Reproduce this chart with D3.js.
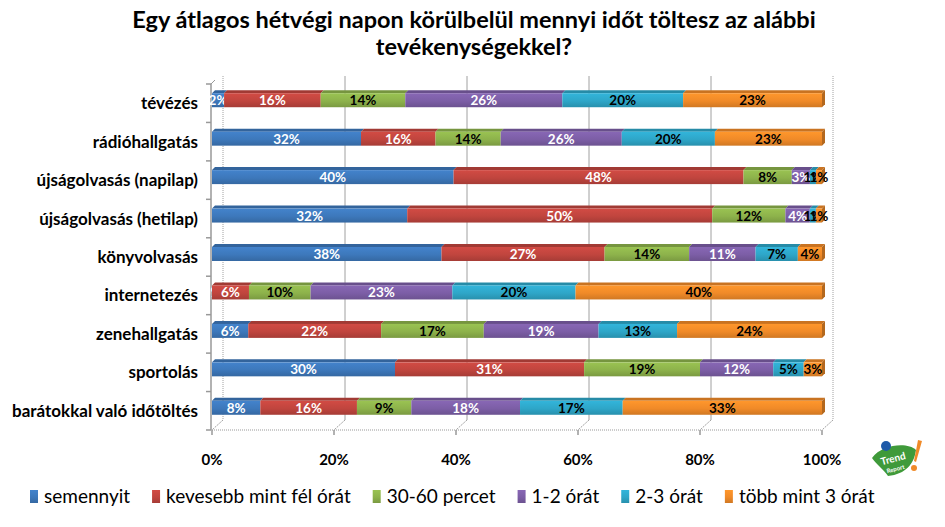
<!DOCTYPE html>
<html>
<head>
<meta charset="utf-8">
<script src="https://cdn.jsdelivr.net/npm/d3@7"></script>
<style>
  body { margin: 0; background: #fff; }
  svg { display: block; font-family: "Lato", "Open Sans", sans-serif; }
</style>
</head>
<body>
<div id="chart"></div>
<script>
var W = 945, H = 527;

var categories = ["tévézés", "rádióhallgatás", "újságolvasás (napilap)", "újságolvasás (hetilap)",
    "könyvolvasás", "internetezés", "zenehallgatás", "sportolás", "barátokkal való időtöltés"];
var seriesNames = ["semennyit", "kevesebb mint fél órát", "30-60 percet", "1-2 órát", "2-3 órát", "több mint 3 órát"];

// percentages as labelled on the bars (each row drawn as 100% stacked)
var semennyit   = [2, 32, 40, 32, 38, 0, 6, 30, 8];
var kevesebb    = [16, 16, 48, 50, 27, 6, 22, 31, 16];
var percet3060  = [14, 14, 8, 12, 14, 10, 17, 19, 9];
var ora12       = [26, 26, 3, 4, 11, 23, 19, 12, 18];
var ora23       = [20, 20, 1, 1, 7, 20, 13, 5, 17];
var tobbMint3   = [23, 23, 1, 1, 4, 40, 24, 3, 33];
var xTicks = [0, 0.2, 0.4, 0.6, 0.8, 1];

var colors = ["#3d78bb", "#c0453e", "#8db24b", "#7c5ea6", "#2ea6c8", "#f08a28"];
var labelColors = ["#fff", "#fff", "#000", "#fff", "#000", "#000"];

var seriesValues = [semennyit, kevesebb, percet3060, ora12, ora23, tobbMint3];

var rows = categories.map(function (c, i) {
    var r = { cat: c };
    seriesNames.forEach(function (s, j) { r[s] = seriesValues[j][i]; });
    return r;
});

var stack = d3.stack().keys(seriesNames).offset(d3.stackOffsetExpand);
var stacked = stack(rows);

var svg = d3.select("#chart").append("svg")
    .attr("width", W).attr("height", H);

var defs = svg.append("defs");
colors.forEach(function (c, i) {
    var g = defs.append("linearGradient").attr("id", "grad" + i)
        .attr("x1", 0).attr("y1", 0).attr("x2", 0).attr("y2", 1);
    g.append("stop").attr("offset", "0%").attr("stop-color", d3.color(c).brighter(0.25));
    g.append("stop").attr("offset", "55%").attr("stop-color", c);
    g.append("stop").attr("offset", "100%").attr("stop-color", d3.color(c).darker(0.4));
});

var plotLeft = 212, plotRight = 822, plotTop = 84, plotBottom = 430;
var depth = 11, barDepth = 3;

var x = d3.scaleLinear().domain([0, 1]).range([plotLeft, plotRight]);
var y = d3.scaleBand().domain(categories).range([plotTop, plotBottom]);

// title
svg.append("text")
    .attr("x", 474).attr("y", 28)
    .attr("text-anchor", "middle")
    .style("font-weight", "bold").style("font-size", "23.5px")
    .text("Egy átlagos hétvégi napon körülbelül mennyi időt töltesz az alábbi");
svg.append("text")
    .attr("x", 474).attr("y", 55)
    .attr("text-anchor", "middle")
    .style("font-weight", "bold").style("font-size", "23.5px")
    .text("tevékenységekkel?");

// back wall grid lines and floor diagonals
var grid = svg.append("g");
xTicks.forEach(function (t) {
    grid.append("line")
        .attr("x1", x(t) + depth).attr("x2", x(t) + depth)
        .attr("y1", plotTop - 8).attr("y2", plotBottom - 10)
        .attr("stroke", "#a0a0a0").attr("stroke-width", 1)
        .attr("stroke-dasharray", t === 0 || t === 1 ? "1,1" : null);
    grid.append("line")
        .attr("x1", x(t) + depth).attr("y1", plotBottom - 10)
        .attr("x2", x(t)).attr("y2", plotBottom)
        .attr("stroke", "#a0a0a0").attr("stroke-dasharray", "2,1");
});

// bottom axis (front)
svg.append("line")
    .attr("x1", x(0)).attr("x2", x(1))
    .attr("y1", plotBottom).attr("y2", plotBottom)
    .attr("stroke", "#999").attr("stroke-dasharray", "1,1");
xTicks.forEach(function (t) {
    svg.append("line")
        .attr("x1", x(t)).attr("x2", x(t))
        .attr("y1", plotBottom).attr("y2", plotBottom + 5)
        .attr("stroke", "#999").attr("stroke-width", 1.5);
    svg.append("text")
        .attr("x", x(t)).attr("y", plotBottom + 35)
        .attr("text-anchor", "middle")
        .style("font-weight", "bold").style("font-size", "15px")
        .text(d3.format(".0%")(t));
});

// left axis
svg.append("line")
    .attr("x1", plotLeft - 1).attr("x2", plotLeft - 1)
    .attr("y1", plotTop).attr("y2", plotBottom)
    .attr("stroke", "#999").attr("stroke-width", 1.5);
svg.append("path")
    .attr("d", "M" + (plotLeft - 1) + "," + plotTop + " L" + (plotLeft + 3) + "," + (plotTop - 4))
    .attr("stroke", "#999").attr("fill", "none");
categories.concat([null]).forEach(function (c, i) {
    var yy = plotTop + i * y.bandwidth();
    svg.append("line")
        .attr("x1", plotLeft - 6).attr("x2", plotLeft - 1)
        .attr("y1", yy).attr("y2", yy)
        .attr("stroke", "#999").attr("stroke-width", 1.5);
});

// category labels
svg.append("g").selectAll("text")
    .data(categories).enter().append("text")
    .attr("x", 198)
    .attr("y", function (d) { return y(d) + y.bandwidth() / 2 + 6; })
    .attr("text-anchor", "end")
    .style("font-weight", "bold").style("font-size", "17px")
    .text(function (d) { return d; });

// bars
var barH = 14;
function barY(c) { return y(c) + (y.bandwidth() - barH) / 2 - 3; }

var layers = svg.append("g").selectAll("g")
    .data(stacked).enter().append("g");

layers.each(function (layer, li) {
    var g = d3.select(this);
    layer.forEach(function (d) {
        var c = d.data.cat;
        var x0 = x(d[0]), x1 = x(d[1]), yy = barY(c);
        if (x1 - x0 <= 0) return;
        // top face
        g.append("path")
            .attr("d", "M" + x0 + "," + yy + " L" + (x0 + barDepth) + "," + (yy - barDepth) +
                " L" + (x1 + barDepth) + "," + (yy - barDepth) + " L" + x1 + "," + yy + "Z")
            .attr("fill", d3.color(colors[li]).darker(0.5));
        g.append("rect")
            .attr("x", x0).attr("y", yy)
            .attr("width", x1 - x0).attr("height", barH)
            .attr("fill", "url(#grad" + li + ")");
        if (li === stacked.length - 1 || d[1] >= 0.9999) {
            g.append("path")
                .attr("d", "M" + x1 + "," + yy + " L" + (x1 + barDepth) + "," + (yy - barDepth) +
                    " L" + (x1 + barDepth) + "," + (yy + barH - barDepth) + " L" + x1 + "," + (yy + barH) + "Z")
                .attr("fill", d3.color(colors[li]).darker(0.8));
        }
    });
});

// data labels
layers.each(function (layer, li) {
    var g = d3.select(this);
    layer.forEach(function (d) {
        var c = d.data.cat;
        g.append("text")
            .attr("x", (x(d[0]) + x(d[1])) / 2)
            .attr("y", barY(c) + barH / 2 + 5)
            .attr("text-anchor", "middle")
            .style("font-weight", "bold").style("font-size", "13.5px")
            .attr("fill", labelColors[li])
            .text(d.data[layer.key] + "%");
    });
});

// legend
var legend = svg.append("g").attr("transform", "translate(30,0)");
var lx = 0;
seriesNames.forEach(function (s, i) {
    legend.append("rect")
        .attr("x", lx).attr("y", 490)
        .attr("width", 8).attr("height", 13)
        .attr("fill", "url(#grad" + i + ")");
    var t = legend.append("text")
        .attr("x", lx + 14).attr("y", 503)
        .style("font-size", "19px")
        .text(s);
    lx += 14 + t.node().getComputedTextLength() + 22;
});

// small logo
var logo = svg.append("g").attr("transform", "translate(870,440)");
logo.append("path")
    .attr("d", "M2,18 C12,4 38,2 46,10 C44,24 36,34 18,36 C14,30 6,24 2,18Z")
    .attr("fill", "#3f9a3a");
logo.append("circle").attr("cx", 16).attr("cy", 6).attr("r", 5).attr("fill", "#1e5aa8");
logo.append("text").attr("x", 24).attr("y", 22).attr("text-anchor", "middle")
    .attr("fill", "#fff").style("font-size", "10px").style("font-weight", "bold")
    .attr("transform", "rotate(-15,24,22)").text("Trend");
logo.append("text").attr("x", 26).attr("y", 31).attr("text-anchor", "middle")
    .attr("fill", "#fff").style("font-size", "6px").style("font-weight", "bold")
    .attr("transform", "rotate(-15,26,31)").text("Report");
logo.append("path").attr("d", "M48,0 L52,1 L46,22 L44,21Z").attr("fill", "#f08a28");
logo.append("circle").attr("cx", 44).attr("cy", 28).attr("r", 3).attr("fill", "#f08a28");
</script>
</body>
</html>
